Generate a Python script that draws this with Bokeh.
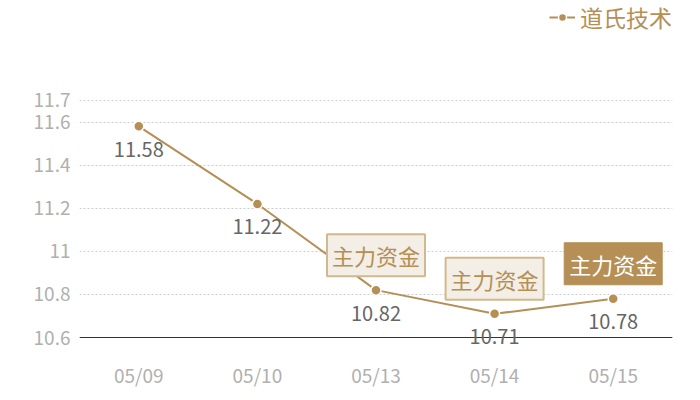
from bokeh.plotting import figure
from bokeh.models import ColumnDataSource, FixedTicker, Legend, LegendItem, Range1d, FactorRange, LabelSet
from bokeh.core.properties import value
from bokeh.embed import file_html
from bokeh.resources import INLINE

dates = ["05/09", "05/10", "05/13", "05/14", "05/15"]
prices = [11.58, 11.22, 10.82, 10.71, 10.78]
price_labels = ["11.58", "11.22", "10.82", "10.71", "10.78"]
y_ticks = [10.6, 10.8, 11.0, 11.2, 11.4, 11.6, 11.7]
y_tick_labels = {10.6: "10.6", 10.8: "10.8", 11.0: "11", 11.2: "11.2", 11.4: "11.4", 11.6: "11.6", 11.7: "11.7"}
tag_dates = ["05/13", "05/14"]
tag_prices = [10.82, 10.71]
hi_dates = ["05/15"]
hi_prices = [10.78]
tag_text = "主力资金"
series_name = "道氏技术"

GOLD = "#b58f55"
FONT = "Noto Sans CJK SC"
Y_MIN = 10.6

p = figure(width=692, height=392, x_range=FactorRange(*dates), y_range=Range1d(Y_MIN - 0.255, 12.164),
           output_backend="svg", toolbar_location=None,
           min_border_left=79, min_border_right=20, min_border_top=0, min_border_bottom=0)
p.outline_line_color = None
p.background_fill_color = "white"

src = ColumnDataSource(dict(x=dates, y=prices, lbl=price_labels))
r_line = p.line("x", "y", source=src, line_color=GOLD, line_width=2)
r_dot = p.scatter("x", "y", source=src, size=10, fill_color=GOLD, line_color="white", line_width=1.5)

p.add_layout(LabelSet(x="x", y="y", text="lbl", source=src, y_offset=-23, text_align="center",
                      text_baseline="middle", text_font=value(FONT), text_font_size="20px",
                      text_color="#666666", level="overlay"))

tsrc = ColumnDataSource(dict(x=tag_dates, y=tag_prices, t=[tag_text] * len(tag_dates)))
p.text("x", "y", text="t", source=tsrc, y_offset=-35, text_align="center", text_baseline="middle",
       text_font=value(FONT), text_font_size="22px", text_color=GOLD,
       background_fill_color="#f3eee6", border_line_color="#d2b98d", border_line_width=2, padding=5)

hsrc = ColumnDataSource(dict(x=hi_dates, y=hi_prices, t=[tag_text] * len(hi_dates)))
p.text("x", "y", text="t", source=hsrc, y_offset=-35, text_align="center", text_baseline="middle",
       text_font=value(FONT), text_font_size="22px", text_color="white",
       background_fill_color=GOLD, border_line_color=GOLD, padding=5)

p.yaxis.ticker = FixedTicker(ticks=y_ticks)
p.yaxis.major_label_overrides = y_tick_labels
p.yaxis.axis_line_color = None
p.yaxis.major_tick_line_color = None
p.yaxis.minor_tick_line_color = None
p.yaxis.major_tick_out = 0
p.yaxis.minor_tick_out = 0
p.yaxis.major_label_text_color = "#b0b0b0"
p.yaxis.major_label_text_font = FONT
p.yaxis.major_label_text_font_size = "19px"
p.yaxis.major_label_standoff = 9

p.xaxis.fixed_location = Y_MIN
p.xaxis.axis_line_color = "#333333"
p.xaxis.axis_line_width = 1
p.xaxis.major_tick_line_color = None
p.xaxis.major_tick_out = 0
p.xaxis.major_label_text_color = "#b0b0b0"
p.xaxis.major_label_text_font = FONT
p.xaxis.major_label_text_font_size = "19px"
p.xaxis.major_label_standoff = 23

p.xgrid.grid_line_color = None
p.ygrid.grid_line_color = "#cccccc"
p.ygrid.grid_line_dash = "2 2"
p.ygrid.grid_line_width = 1

legend = Legend(items=[LegendItem(label=series_name, renderers=[r_line, r_dot])],
                location="top_right", orientation="horizontal",
                label_text_color=GOLD, label_text_font=FONT, label_text_font_size="23px",
                border_line_color=None, background_fill_alpha=0, glyph_width=26,
                margin=0, padding=0, label_standoff=5)
p.add_layout(legend)

open("out.html", "w").write(file_html(p, INLINE))
